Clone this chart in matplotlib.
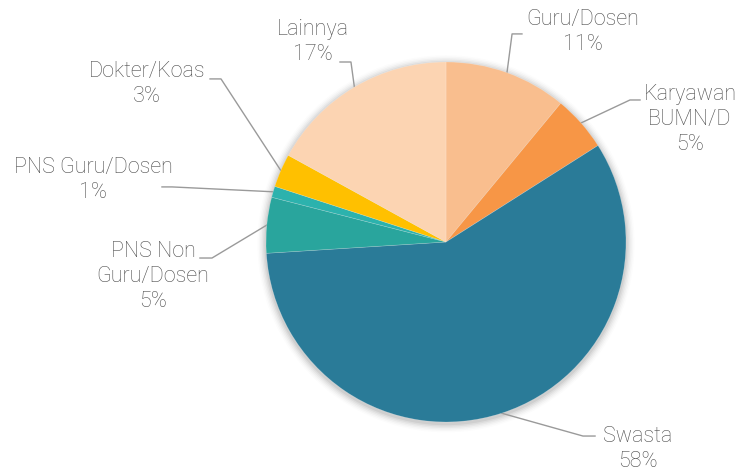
import matplotlib.pyplot as plt
import numpy as np
from matplotlib.patches import Circle

# share of respondents per occupation
labels = ['Guru/Dosen', 'Karyawan\nBUMN/D', 'Swasta', 'PNS Non\nGuru/Dosen',
          'PNS Guru/Dosen', 'Dokter/Koas', 'Lainnya']
values = [11, 5, 58, 5, 1, 3, 17]
colors = ['#F9BE8E', '#F79646', '#2A7B98', '#29A59D', '#2CB2AD', '#FFC000', '#FCD4B2']

# label text centre and leader elbow / end (data units, radius = 1)
text_pos = [(0.761, 1.167), (1.356, 0.678), (1.067, -1.15), (-1.628, -0.189),
            (-1.961, 0.344), (-1.661, 0.878), (-0.739, 1.111)]
elbows = [((0.367, 1.156), (0.422, 1.156)),
          ((1.022, 0.789), (1.078, 0.789)),
          ((0.761, -1.078), (0.828, -1.078)),
          ((-1.30, -0.089), (-1.367, -0.089)),
          ((-1.522, 0.306), (-1.578, 0.306)),
          ((-1.250, 0.906), (-1.311, 0.906)),
          ((-0.528, 1.000), (-0.589, 1.000))]

plt.rcParams['font.family'] = ['Roboto', 'DejaVu Sans']

fig = plt.figure(figsize=(7.47, 4.74), dpi=100)
ax = fig.add_axes([0, 0, 1, 1])

# soft shadow under the pie
for i, a in enumerate(np.linspace(0.05, 0.01, 6)):
    ax.add_patch(Circle((0.0, -0.01), 1.0 + 0.008 * (i + 1), color='black',
                        alpha=a, lw=0, zorder=0))

wedges, _ = ax.pie(values, colors=colors, startangle=90, counterclock=False,
                   radius=1.0, wedgeprops=dict(linewidth=0.4, edgecolor=(1, 1, 1, 0.3)))
for w in wedges:
    w.set_zorder(2)

for w, lab, v, tp, (el, end) in zip(wedges, labels, values, text_pos, elbows):
    mid = np.deg2rad((w.theta1 + w.theta2) / 2)
    start = (np.cos(mid), np.sin(mid))
    ax.plot([start[0], el[0], end[0]], [start[1], el[1], end[1]],
            color='#9a9a9a', lw=1.0, zorder=1)
    ax.text(tp[0], tp[1], f'{lab}\n{v}%', ha='center', va='center',
            multialignment='center', fontsize=15.5, fontweight='light',
            color='#4d4d4d', linespacing=1.25)

ax.set_xlim(-446 / 180, (747 - 446) / 180)
ax.set_ylim((242 - 474) / 180, 242 / 180)
ax.set_aspect('equal')
ax.axis('off')

plt.savefig('out.png', dpi=100)
plt.close()
